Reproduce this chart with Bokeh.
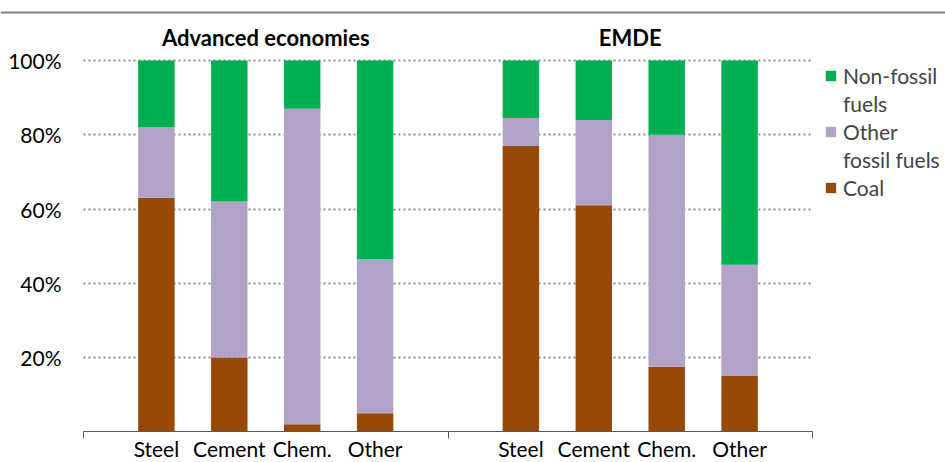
from bokeh.plotting import figure
from bokeh.models import (ColumnDataSource, Range1d, LinearAxis, FixedTicker,
                          PrintfTickFormatter, Grid, Span, Legend, LegendItem)
from bokeh.core.properties import value
from bokeh.embed import file_html
from bokeh.resources import INLINE

# ---------------- data ----------------
groups = ["Advanced economies", "EMDE"]
sectors = ["Steel", "Cement", "Chem.", "Other"]

adv_coal = [63, 20, 2, 5]
adv_other_fossil = [19, 42, 85, 41.5]
adv_non_fossil = [18, 38, 13, 53.5]

emde_coal = [77, 61, 17.5, 15]
emde_other_fossil = [7.5, 23, 62.5, 30]
emde_non_fossil = [15.5, 16, 20, 55]

y_ticks = [20, 40, 60, 80, 100]
# legend lines, top to bottom: (text, series index or None for a continuation line)
legend_lines = [("Non-fossil", 2), ("fuels", None),
                ("Other", 1), ("fossil fuels", None),
                ("Coal", 0)]
colors = ["#984807", "#B3A2C7", "#00B050"]

# ---------------- layout constants ----------------
W, H = 945, 462
X0, PX_X = 83, 72.9        # pixel of slot 0, pixels per slot
Y0, PX_Y = 431.25, 3.7125  # pixel (from top) of 0 %, pixels per %
FONT = "Lato"

n = len(sectors)
xs = [g * (n + 1) + i + 1 for g in range(len(groups)) for i in range(n)]
bounds_ticks = [g * (n + 1) for g in range(len(groups) + 1)]
centers = [g * (n + 1) + (n + 1) / 2 for g in range(len(groups))]

src = ColumnDataSource(dict(
    x=xs,
    coal=adv_coal + emde_coal,
    other=adv_other_fossil + emde_other_fossil,
    non=adv_non_fossil + emde_non_fossil,
))

p = figure(width=W, height=H, output_backend="svg", toolbar_location=None,
           x_range=Range1d(-X0 / PX_X, (W - X0) / PX_X),
           y_range=Range1d(-(H - Y0) / PX_Y, Y0 / PX_Y),
           x_axis_location=None, y_axis_location=None,
           min_border=0, outline_line_color=None)
p.center = []  # drop default grids

grid = Grid(dimension=1, ticker=FixedTicker(ticks=y_ticks),
            cross_bounds=(bounds_ticks[0], bounds_ticks[-1]),
            grid_line_color="#8c8c8c", grid_line_dash="2 3", grid_line_width=2)
p.add_layout(grid)

rs = p.vbar_stack(["coal", "other", "non"], x="x", width=0.5, source=src,
                  fill_color=colors, line_color=None)

yaxis = LinearAxis(fixed_location=0, ticker=FixedTicker(ticks=y_ticks),
                   formatter=PrintfTickFormatter(format="%d%%"),
                   axis_line_color=None, major_tick_line_color=None,
                   minor_tick_line_color=None, major_tick_out=0, major_tick_in=0,
                   major_label_standoff=22,
                   major_label_text_font=FONT, major_label_text_font_size="21px",
                   major_label_text_color="#000000")
p.add_layout(yaxis, "left")

xaxis = LinearAxis(fixed_location=0,
                   ticker=FixedTicker(ticks=xs, minor_ticks=bounds_ticks),
                   major_label_overrides={x: s for x, s in zip(xs, sectors * len(groups))},
                   bounds=(bounds_ticks[0], bounds_ticks[-1]),
                   axis_line_color="#595959", axis_line_width=1,
                   major_tick_line_color=None, major_tick_out=0, major_tick_in=0,
                   minor_tick_line_color="#595959", minor_tick_out=7, minor_tick_in=0,
                   major_label_standoff=-3,
                   major_label_text_font=FONT, major_label_text_font_size="21px",
                   major_label_text_color="#000000")
p.add_layout(xaxis, "below")

tsrc = ColumnDataSource(dict(x=centers, y=[106.2] * len(groups), t=groups))
p.text(x="x", y="y", text="t", source=tsrc, text_font=value(FONT),
       text_font_style="bold", text_font_size="22px", text_align="center",
       text_baseline="middle", text_color="#000000")

p.add_layout(Span(location=(Y0 - 12) / PX_Y, dimension="width",
                  line_color="#808080", line_width=2))

blank = p.vbar(x=[], top=[], width=0.5, fill_alpha=0, line_alpha=0)
items = [LegendItem(label=t, renderers=[rs[i] if i is not None else blank])
         for t, i in legend_lines]
legend = Legend(items=items, location=(824, 262), orientation="vertical",
                label_text_font=FONT, label_text_font_size="21px",
                glyph_width=13, glyph_height=13, label_standoff=6,
                spacing=3, padding=0, margin=0,
                border_line_color=None, background_fill_color=None)
p.add_layout(legend)

open("out.html", "w").write(file_html(p, INLINE))
